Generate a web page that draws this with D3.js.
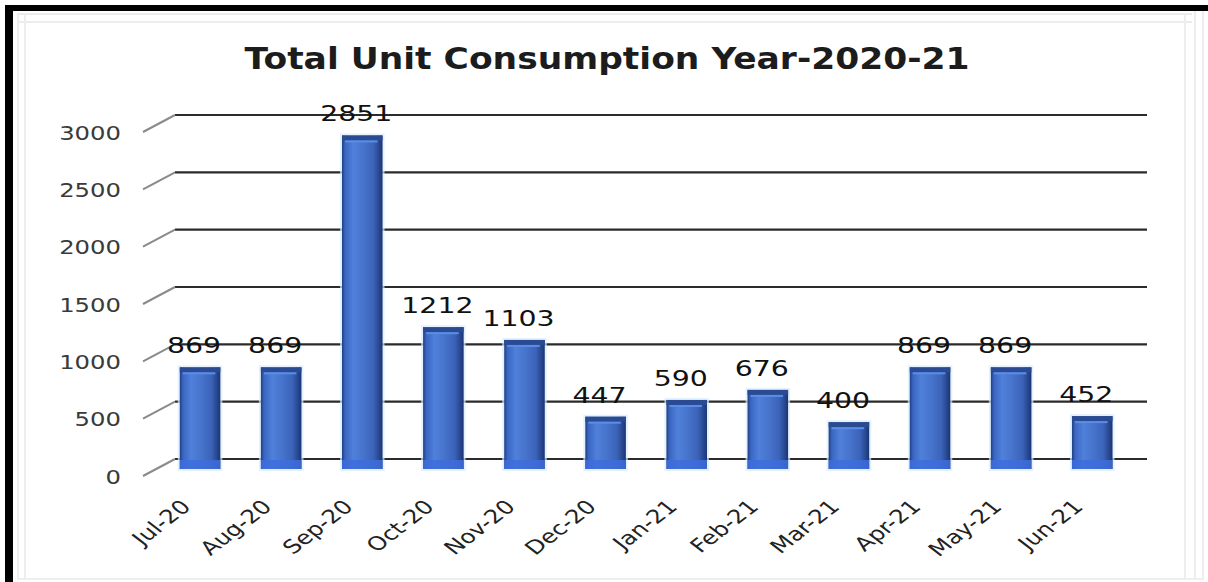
<!DOCTYPE html>
<html><head><meta charset="utf-8">
<script src="https://cdn.jsdelivr.net/npm/d3@7"></script>
<style>html,body{margin:0;padding:0;background:#fff;}svg{display:block;}</style>
</head><body>
<svg id="c" width="1208" height="582"></svg>
<script>
const title = "Total Unit Consumption Year-2020-21";
const months = ["Jul-20","Aug-20","Sep-20","Oct-20","Nov-20","Dec-20","Jan-21","Feb-21","Mar-21","Apr-21","May-21","Jun-21"];
const units = [869, 869, 2851, 1212, 1103, 447, 590, 676, 400, 869, 869, 452];
const yTicks = [0, 500, 1000, 1500, 2000, 2500, 3000];

const svg = d3.select("#c");
const W = 1208, H = 582;
svg.append("rect").attr("width", W).attr("height", H).attr("fill", "#fff");

// frame
const fr = svg.append("g");
[[17,14,1192,14],[17,22,1192,22]].forEach(d=>fr.append("line").attr("x1",d[0]).attr("y1",d[1]).attr("x2",d[2]).attr("y2",d[3]).attr("stroke","#ececec").attr("stroke-width",2));
[[18,14,18,580],[25,14,25,580],[1185,14,1185,580],[1195,10,1195,580],[1203,10,1203,580]].forEach(d=>fr.append("line").attr("x1",d[0]).attr("y1",d[1]).attr("x2",d[2]).attr("y2",d[3]).attr("stroke","#eeeeee").attr("stroke-width",2));
fr.append("line").attr("x1",17).attr("y1",579).attr("x2",1203).attr("y2",579).attr("stroke","#eeeeee").attr("stroke-width",2);
fr.append("rect").attr("x",5).attr("y",5).attr("width",1203).attr("height",6).attr("fill","#000");
fr.append("rect").attr("x",5).attr("y",5).attr("width",8).attr("height",577).attr("fill","#000");

// title
svg.append("text").attr("x", 607).attr("y", 69).attr("text-anchor","middle")
  .attr("font-family","DejaVu Sans").attr("font-weight","bold").attr("font-size",30)
  .attr("fill","#1c1c1c").attr("textLength",725).attr("lengthAdjust","spacingAndGlyphs")
  .text(title);

// scales
const x = d3.scaleBand().domain(months).range([159.5, 1132.8]).paddingInner(0.5).paddingOuter(0.25);
const y = d3.scaleLinear().domain([0, 3000]).range([459, 115]);
const yBar = d3.scaleLinear().domain([0, 3000]).range([469, 118]);

// gridlines + perspective connectors
const grid = svg.append("g");
grid.selectAll("line.g").data(yTicks).join("line").attr("class","g")
  .attr("x1",175).attr("x2",1147).attr("y1",d=>y(d)).attr("y2",d=>y(d))
  .attr("stroke","#2b2b2b").attr("stroke-width",2.2);
grid.selectAll("line.d").data(yTicks).join("line").attr("class","d")
  .attr("x1",143).attr("x2",175).attr("y1",d=>y(d)+17).attr("y2",d=>y(d))
  .attr("stroke","#8a8a8a").attr("stroke-width",2);

// y axis labels
const yAxis = d3.axisLeft(y).tickValues(yTicks).tickSize(0).tickFormat(d3.format("d"));
const gy = svg.append("g").attr("transform","translate(121,0)").call(yAxis);
gy.select(".domain").remove();
gy.selectAll(".tick").attr("transform", d => `translate(0,${y(d)+18})`);
gy.selectAll(".tick text").attr("x",0).attr("dy","0.35em")
  .attr("transform","scale(1.28,1)")
  .attr("font-family","DejaVu Sans").attr("font-size",19).attr("fill","#3a3a3a");

// gradients
const defs = svg.append("defs");
const gr = defs.append("linearGradient").attr("id","barg").attr("x1","0").attr("x2","1").attr("y1","0").attr("y2","0");
[["0%","#213f80"],["8%","#3a66c2"],["28%","#4f80da"],["55%","#4672ca"],["78%","#3b63b8"],["90%","#2a4a94"],["100%","#1b3574"]]
  .forEach(s=>gr.append("stop").attr("offset",s[0]).attr("stop-color",s[1]));

// bars
const bars = svg.append("g");
const bg = bars.selectAll("g").data(months.map((m,i)=>({m, v: units[i]}))).join("g");
bg.append("rect").attr("x",d=>x(d.m)-2).attr("y",d=>yBar(d.v)-2)
  .attr("width",x.bandwidth()+4).attr("height",d=>yBar(0)-yBar(d.v)+4)
  .attr("fill","#d8ecff").attr("opacity",0.7);
bg.append("rect").attr("x",d=>x(d.m)).attr("y",d=>yBar(d.v))
  .attr("width",x.bandwidth()).attr("height",d=>yBar(0)-yBar(d.v))
  .attr("fill","url(#barg)");
bg.append("rect").attr("x",d=>x(d.m)).attr("y",d=>yBar(d.v))
  .attr("width",x.bandwidth()).attr("height",5).attr("fill","#2a4b92");
bg.append("rect").attr("x",d=>x(d.m)+3).attr("y",d=>yBar(d.v)+5)
  .attr("width",x.bandwidth()-8).attr("height",2).attr("fill","#5b8de6");
bg.append("rect").attr("x",d=>x(d.m)).attr("y",d=>yBar(0)-9)
  .attr("width",x.bandwidth()).attr("height",9).attr("fill","#3e6ddc").attr("opacity",0.85);

// value labels
bg.append("text")
  .attr("transform",d=>`translate(${x(d.m)+x.bandwidth()/2-6},${yBar(d.v)-14}) scale(1.35,1)`)
  .attr("text-anchor","middle").attr("font-family","DejaVu Sans").attr("font-size",21)
  .attr("fill","#111").text(d=>d3.format("d")(d.v));

// x axis labels
const xAxis = d3.axisBottom(x).tickSize(0);
const gx = svg.append("g").attr("transform","translate(0,0)").call(xAxis);
gx.select(".domain").remove();
gx.selectAll(".tick").attr("transform", d => `translate(${x(d)+x.bandwidth()/2-8},508)`);
gx.selectAll(".tick text").attr("x",0).attr("y",0).attr("dy",0)
  .attr("transform","scale(1.3,1) rotate(-45)")
  .attr("text-anchor","end").attr("font-family","DejaVu Sans").attr("font-size",19).attr("fill","#222");
</script>
</body></html>
